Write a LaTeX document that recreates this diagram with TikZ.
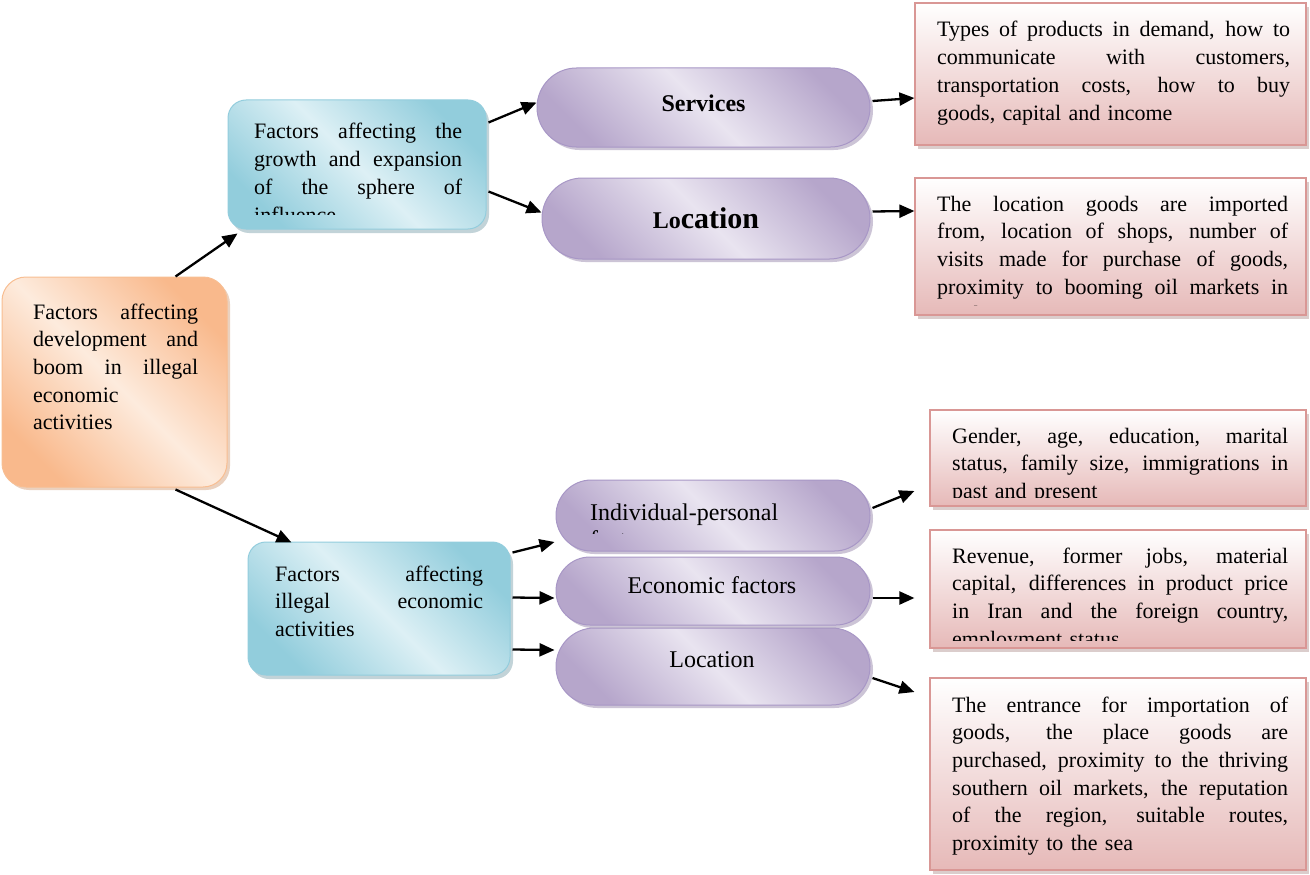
\documentclass[tikz,border=0pt]{standalone}
\usepackage{fontspec}
\setmainfont{Liberation Serif}
\usetikzlibrary{arrows.meta,calc,shadows}

\definecolor{ordark}{HTML}{F9B98C}
\definecolor{orlight}{HTML}{FDEBDD}
\definecolor{ordraw}{HTML}{F8BE92}
\definecolor{orshadow}{HTML}{D7A480}
\definecolor{bldark}{HTML}{92CDDC}
\definecolor{bllight}{HTML}{DDF0F5}
\definecolor{bldraw}{HTML}{93CDDD}
\definecolor{blshadow}{HTML}{86A8B2}
\definecolor{pudark}{HTML}{B6A6CB}
\definecolor{pulight}{HTML}{E9E4F0}
\definecolor{pudraw}{HTML}{A897C6}
\definecolor{pushadow}{HTML}{9A8BAE}
\definecolor{rdbottom}{HTML}{E6B9B8}
\definecolor{rddraw}{HTML}{D99795}
\definecolor{rdshadow}{HTML}{B99C9B}

\newcommand\JL[1]{\leavevmode\hbox to\linewidth{\spaceskip=0.25em plus 1fil\relax #1}\par}
\newcommand\LL[1]{\leavevmode\hbox to\linewidth{#1\hfil}\par}

\tikzset{
  diag/.style 2 args={shading=axis, left color=#1, right color=#1, middle color=#2, shading angle=135},
  obox/.style={rectangle, inner sep=0pt, rounded corners=24pt, draw=ordraw, line width=1pt,
    drop shadow={shadow xshift=3pt, shadow yshift=-3pt, fill=orshadow}, diag={ordark}{orlight}},
  bbox/.style={rectangle, inner sep=0pt, rounded corners=18pt, draw=bldraw, line width=1pt,
    drop shadow={shadow xshift=3pt, shadow yshift=-4pt, fill=blshadow}, diag={bldark}{bllight}},
  pill/.style={rectangle, inner sep=0pt, draw=pudraw, line width=1pt,
    drop shadow={shadow xshift=3pt, shadow yshift=-3pt, fill=pushadow}, diag={pudark}{pulight}},
  rbox/.style={rectangle, inner sep=0pt, draw=rddraw, line width=1.2pt,
    drop shadow={shadow xshift=3pt, shadow yshift=-4pt, fill=rdshadow},
    shading=axis, top color=white, bottom color=rdbottom},
  txt/.style={inner sep=0pt, align=left, anchor=base west, font=\fontsize{22}{27.7}\selectfont},
  ptxt/.style={inner sep=0pt, anchor=base, font=\fontsize{24}{27.6}\selectfont},
  arr/.style={-{Triangle[length=15pt,width=13pt]}, line width=2.3pt},
}

\begin{document}
\begin{tikzpicture}[x=1pt,y=-1pt]
\path[use as bounding box, fill=white] (0,0) rectangle (1310,875);

% main boxes
\node[obox, minimum width=225pt, minimum height=210pt] (o) at (114.5,382) {};
\node[bbox, minimum width=258pt, minimum height=129pt] (tb) at (357,164.5) {};
\node[bbox, minimum width=262pt, minimum height=133pt] (bb) at (379,608.5) {};

% pills
\node[pill, minimum width=333pt, minimum height=79pt, rounded corners=39.5pt] (sv) at (703.5,107.5) {};
\node[pill, minimum width=328pt, minimum height=81pt, rounded corners=40.5pt] (l1) at (706,218.5) {};
\node[pill, minimum width=314pt, minimum height=77pt, rounded corners=38.5pt] (l2) at (713,666.5) {};
\node[pill, minimum width=314pt, minimum height=68pt, rounded corners=34pt] (ec) at (713,591) {};
\node[pill, minimum width=314pt, minimum height=71pt, rounded corners=35.5pt] (ip) at (713,515.5) {};

% red boxes
\node[rbox, minimum width=391pt, minimum height=142pt] (r1) at (1110.5,74) {};
\node[rbox, minimum width=391pt, minimum height=137pt] (r2) at (1110.5,246.5) {};
\node[rbox, minimum width=376pt, minimum height=96pt] (r3) at (1118,458) {};
\node[rbox, minimum width=376pt, minimum height=118pt] (r4) at (1118,589) {};
\node[rbox, minimum width=376pt, minimum height=192pt] (r5) at (1118,774) {};

% texts
\node[txt, text width=165pt] (ot) at (33,319) {\JL{Factors affecting}\JL{development and}\JL{boom in illegal}\LL{economic}\LL{activities}};
\begin{scope}
\clip (228,100) rectangle (486,214);
\node[txt, text width=208pt] (tbt) at (254,139) {\JL{Factors affecting the}\JL{growth and expansion}\JL{of the sphere of}\LL{influence}};
\end{scope}
\node[txt, text width=208pt] (bbt) at (275,581) {\JL{Factors affecting}\JL{illegal economic}\LL{activities}};

\node[ptxt] (svt) at (703.5,111) {\bfseries Services};
\node[ptxt] (l1t) at (706,228) {\bfseries Lo\fontsize{30}{32}\selectfont cation};
\begin{scope}
\clip (556,480) rectangle (870,533);
\node[txt, text width=250pt, font=\fontsize{24}{27.6}\selectfont] (ipt) at (590,520) {\LL{Individual-personal}\LL{factors}};
\end{scope}
\node[ptxt] (ect) at (712,593) {Economic factors};
\node[ptxt] (l2t) at (712,667) {Location};

\node[txt, text width=353pt] (r1t) at (937,37) {\JL{Types of products in demand, how to}\JL{communicate with customers,}\JL{transportation costs, how to buy}\LL{goods, capital and income}};
\begin{scope}
\clip (915,178) rectangle (1306,305.5);
\node[txt, text width=351pt] (r2t) at (937,211) {\JL{The location goods are imported}\JL{from, location of shops, number of}\JL{visits made for purchase of goods,}\JL{proximity to booming oil markets in}\LL{southern Iran}};
\end{scope}
\begin{scope}
\clip (930,410) rectangle (1306,497.5);
\node[txt, text width=336pt] (r3t) at (952,443) {\JL{Gender, age, education, marital}\JL{status, family size, immigrations in}\LL{past and present}};
\end{scope}
\begin{scope}
\clip (930,530) rectangle (1306,640.5);
\node[txt, text width=336pt] (r4t) at (952,563) {\JL{Revenue, former jobs, material}\JL{capital, differences in product price}\JL{in Iran and the foreign country,}\LL{employment status}};
\end{scope}
\node[txt, text width=336pt] (r5t) at (952,712) {\JL{The entrance for importation of}\JL{goods, the place goods are}\JL{purchased, proximity to the thriving}\JL{southern oil markets, the reputation}\JL{of the region, suitable routes,}\LL{proximity to the sea}};

% connectors
\draw[arr] ($(o.north east)+(-52,0)$) -- ($(tb.south west)+(10,4)$);
\draw[arr] ($(o.south east)+(-52,2)$) -- ($(bb.north west)+(44,1)$);
\draw[arr] ($(tb.north east)+(2,23)$) -- ($(sv.west)+(0,-5)$);
\draw[arr] ($(tb.north east)+(2,92)$) -- ($(l1.west)+(0,-6)$);
\draw[arr] ($(sv.east)+(2,-6.5)$) -- ($(r1.west)+(0,24)$);
\draw[arr] ($(l1.east)+(2,-7)$) -- ($(r2.west)+(0,-35.5)$);
\draw[arr] ($(bb.north east)+(2,11)$) -- ($(ip.west)+(-1,26.5)$);
\draw[arr] ($(bb.north east)+(2,56)$) -- ($(ec.west)+(-1,7)$);
\draw[arr] ($(bb.north east)+(2,108)$) -- ($(l2.west)+(-1,-16.5)$);
\draw[arr] ($(ip.east)+(2,-7.5)$) -- ($(r3.west)+(-15,33)$);
\draw[arr] ($(ec.east)+(2,7)$) -- ($(r4.west)+(-15,9)$);
\draw[arr] ($(l2.east)+(2,11.5)$) -- ($(r5.west)+(-15,-82)$);
\end{tikzpicture}
\end{document}
